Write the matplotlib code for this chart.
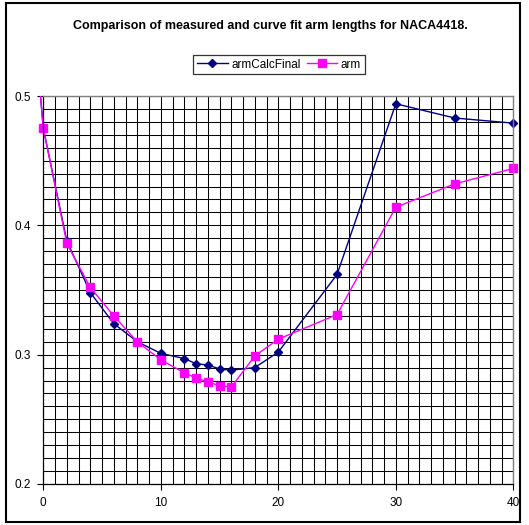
import matplotlib
matplotlib.use("Agg")
import matplotlib.pyplot as plt
from matplotlib.patches import Rectangle
import numpy as np

plt.rcParams['font.family'] = ['Liberation Sans', 'DejaVu Sans']

# ---- data ----
x_vals = [-1, 0, 2, 4, 6, 8, 10, 12, 13, 14, 15, 16, 18, 20, 25, 30, 35, 40]
arm_calc_final = [0.58, 0.475, 0.388, 0.348, 0.324, 0.310, 0.301, 0.297, 0.293, 0.292,
                  0.289, 0.288, 0.290, 0.302, 0.362, 0.494, 0.483, 0.479]
arm = [0.58, 0.475, 0.386, 0.352, 0.330, 0.310, 0.296, 0.286, 0.282, 0.279,
       0.276, 0.275, 0.299, 0.312, 0.331, 0.414, 0.432, 0.444]
x_ticks = [0, 10, 20, 30, 40]
y_ticks = [0.2, 0.3, 0.4, 0.5]
title = "Comparison of measured and curve fit arm lengths for NACA4418."
series_names = ["armCalcFinal", "arm"]

W, H = 529, 525
fig = plt.figure(figsize=(W / 100, H / 100), dpi=100)
fig.patch.set_facecolor("white")

# outer chart frame
fig.add_artist(Rectangle((6 / W, 1 - 522 / H), (520 - 6) / W, (522 - 3) / H,
                         transform=fig.transFigure, fill=False, edgecolor="black",
                         linewidth=1.5))

left, right, top, bottom = 43.3, 513.3, 96, 484
ax = fig.add_axes([left / W, 1 - bottom / H, (right - left) / W, (bottom - top) / H])
ax.set_xlim(0, 40)
ax.set_ylim(0.2, 0.5)

# grid
ax.set_xticks(np.arange(0, 41, 1), minor=True)
ax.set_yticks(np.arange(0.2, 0.5001, 0.01), minor=True)
ax.grid(True, which="both", color="black", linewidth=0.75)
ax.set_axisbelow(True)
ax.tick_params(which="minor", length=0)

ax.set_xticks(x_ticks)
ax.set_xticklabels([str(v) for v in x_ticks])
ax.set_yticks(y_ticks)
ax.set_yticklabels([f"{v:.1f}" for v in y_ticks])
ax.tick_params(which="major", length=4, width=0.8, labelsize=8.5, direction="out", pad=5)

for s in ["top", "right"]:
    ax.spines[s].set_color("#808080")
    ax.spines[s].set_linewidth(1.0)
for s in ["left", "bottom"]:
    ax.spines[s].set_color("black")
    ax.spines[s].set_linewidth(0.9)

clip = Rectangle((-0.02, 0), 1.04, 1, transform=ax.transAxes)
l1, = ax.plot(x_vals, arm_calc_final, color="#000080", marker="D", markersize=4.2,
              linewidth=1.0, label=series_names[0])
l2, = ax.plot(x_vals, arm, color="#FF00FF", marker="s", markersize=5.5,
              linewidth=1.0, label=series_names[1])
for ln in (l1, l2):
    ln.set_clip_path(clip)

fig.text(270 / W, 1 - 25.5 / H, title, ha="center", va="center", fontsize=9,
         fontweight="bold")

leg = fig.legend(handles=[l1, l2], loc="center", bbox_to_anchor=(279 / W, 1 - 64.5 / H),
                 ncol=2, fontsize=8.5, frameon=True, fancybox=False, handlelength=2.6,
                 handletextpad=0.3, columnspacing=0.5, borderpad=0.3,
                 borderaxespad=0)
leg.get_frame().set_edgecolor("black")
leg.get_frame().set_linewidth(0.9)

fig.savefig("out.png", dpi=100)
